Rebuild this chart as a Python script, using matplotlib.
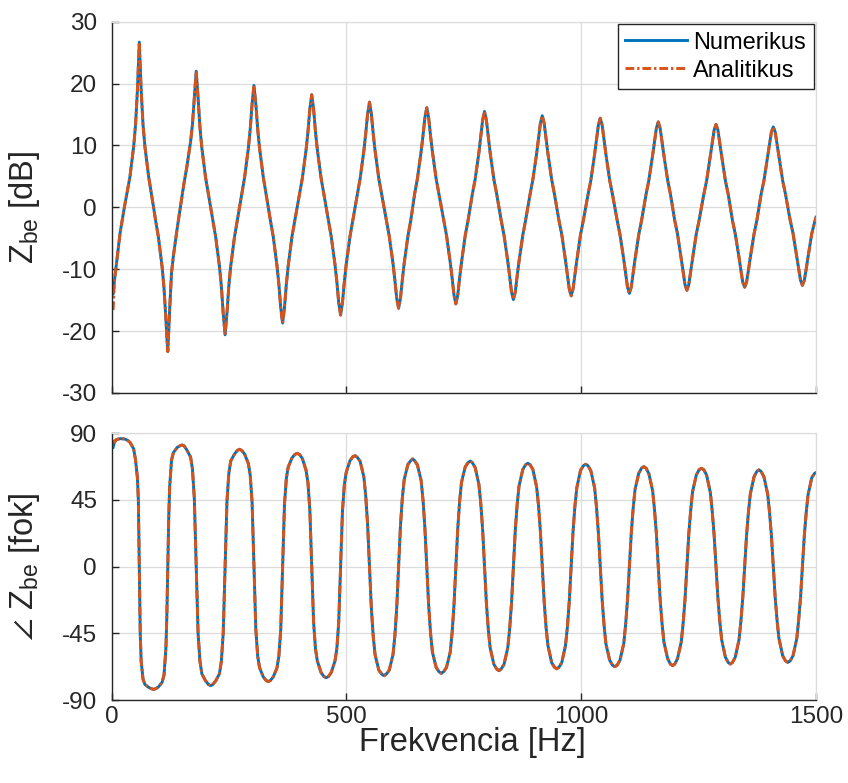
import matplotlib
matplotlib.use("Agg")
import matplotlib.pyplot as plt

plt.rcParams['font.family'] = ['Liberation Sans', 'DejaVu Sans']
plt.rcParams['mathtext.fontset'] = 'custom'
plt.rcParams['mathtext.rm'] = 'Liberation Sans'
plt.rcParams['mathtext.it'] = 'Liberation Sans:italic'
plt.rcParams['mathtext.fallback'] = 'stixsans'
plt.rcParams['axes.unicode_minus'] = False

# frekvencia [Hz] - one row per half period (peak -> trough -> peak)
freq = [3, 6, 10, 18, 27, 32.8, 38.8, 46.8, 50.8, 54.8, 56.8,
        58.8, 60.8, 62.8, 66.8, 70.8, 78.8, 84.8, 89.2, 93.5, 99.5, 107.5, 111.5, 115.5, 117.5,
        119.5, 121.5, 123.5, 127.5, 131.5, 139.5, 145.5, 149.8, 154, 160, 168, 172, 176,
        180, 184, 188, 192, 200, 206, 210.8, 215.5, 221.5, 229.5, 233.5, 237.5,
        241.5, 245.5, 249.5, 253.5, 261.5, 267.5, 272.3, 277, 283, 291, 295, 299,
        303, 307, 311, 315, 323, 329, 333.5, 338, 344, 352, 356, 360,
        364, 368, 372, 376, 384, 390, 395, 400, 406, 414, 418, 422,
        426, 430, 434, 438, 446, 452, 456.8, 461.5, 467.5, 475.5, 479.5, 483.5,
        487.5, 491.5, 495.5, 499.5, 507.5, 513.5, 518.3, 523, 529, 537, 541, 545,
        549, 553, 557, 561, 569, 575, 580, 585, 591, 599, 603, 607,
        611, 615, 619, 623, 631, 637, 641, 645, 651, 659, 663, 667,
        671, 675, 679, 683, 691, 697, 702, 707, 713, 721, 725, 729,
        733, 737, 741, 745, 753, 759, 763.5, 768, 774, 782, 786, 790,
        794, 798, 802, 806, 814, 820, 824.8, 829.5, 835.5, 843.5, 847.5, 851.5,
        855.5, 859.5, 863.5, 867.5, 875.5, 881.5, 886.3, 891, 897, 905, 909, 913,
        917, 921, 925, 929, 937, 943, 947.8, 952.5, 958.5, 966.5, 970.5, 974.5,
        978.5, 982.5, 986.5, 990.5, 998.5, 1004.5, 1009.5, 1014.5, 1020.5, 1028.5, 1032.5, 1036.5,
        1040.5, 1044.5, 1048.5, 1052.5, 1060.5, 1066.5, 1071.5, 1076.5, 1082.5, 1090.5, 1094.5, 1098.5,
        1102.5, 1106.5, 1110.5, 1114.5, 1122.5, 1128.5, 1133.3, 1138, 1144, 1152, 1156, 1160,
        1164, 1168, 1172, 1176, 1184, 1190, 1194.5, 1199, 1205, 1213, 1217, 1221,
        1225, 1229, 1233, 1237, 1245, 1251, 1256, 1261, 1267, 1275, 1279, 1283,
        1287, 1291, 1295, 1299, 1307, 1313, 1317.5, 1322, 1328, 1336, 1340, 1344,
        1348, 1352, 1356, 1360, 1368, 1374, 1378.5, 1383, 1389, 1397, 1401, 1405,
        1409, 1413, 1417, 1421, 1429, 1435, 1440, 1445, 1451, 1459, 1463, 1467,
        1471, 1475, 1479, 1483, 1491, 1497, 1500]

# |Z_be| [dB], numerikus
z_db = [-14.0, -11.8, -9.2, -4.1, 0, 2.4, 4.9, 9.8, 13.3, 18.9, 23.0,
        26.7, 23.0, 18.9, 13.3, 9.8, 4.9, 2.1, 0, -2.1, -4.8, -9.7, -13.1, -18.1, -21.0,
        -23.3, -20.0, -16.5, -10.5, -7.8, -3.4, -0.3, 1.8, 3.9, 6.5, 10.6, 13.4, 17.7,
        22.0, 17.7, 12.9, 9.6, 4.8, 2.1, 0, -2.1, -4.8, -9.5, -12.7, -17.1,
        -20.6, -17.1, -12.7, -9.5, -4.8, -2.1, 0, 2.1, 4.8, 9.5, 12.6, 16.7,
        19.7, 16.7, 12.6, 9.5, 4.8, 2.1, 0, -2.1, -4.7, -9.4, -12.4, -16.2,
        -18.7, -16.2, -12.4, -9.4, -4.7, -2.1, 0, 2.1, 4.7, 9.3, 12.2, 15.9,
        18.2, 15.9, 12.2, 9.3, 4.7, 2.1, 0, -2.1, -4.7, -9.2, -12.0, -15.4,
        -17.4, -15.4, -12.0, -9.2, -4.7, -2.1, 0, 2.1, 4.6, 9.1, 11.9, 15.1,
        17.0, 15.1, 11.9, 9.1, 4.6, 2.1, 0, -2.1, -4.6, -9.0, -11.7, -14.7,
        -16.3, -14.7, -11.7, -9.0, -4.6, -2.1, 0, 2.1, 4.6, 9.0, 11.6, 14.5,
        16.1, 14.5, 11.6, 9.0, 4.6, 2.1, 0, -2.1, -4.5, -8.9, -11.4, -14.2,
        -15.6, -14.2, -11.4, -8.9, -4.5, -2.1, 0, 2.1, 4.5, 8.8, 11.4, 14.1,
        15.5, 14.1, 11.4, 8.8, 4.5, 2.1, 0, -2.1, -4.5, -8.7, -11.1, -13.7,
        -14.9, -13.7, -11.1, -8.7, -4.5, -2.1, 0, 2.1, 4.5, 8.7, 11.1, 13.6,
        14.8, 13.6, 11.1, 8.7, 4.5, 2.1, 0, -2.1, -4.4, -8.6, -10.9, -13.2,
        -14.3, -13.2, -10.9, -8.6, -4.4, -2.1, 0, 2.1, 4.4, 8.6, 10.9, 13.3,
        14.4, 13.3, 10.9, 8.6, 4.4, 2.1, 0, -2.1, -4.4, -8.4, -10.7, -12.9,
        -13.9, -12.9, -10.7, -8.4, -4.4, -2.1, 0, 2.1, 4.4, 8.4, 10.6, 12.8,
        13.8, 12.8, 10.6, 8.4, 4.4, 2.1, 0, -2.1, -4.3, -8.3, -10.4, -12.5,
        -13.4, -12.5, -10.4, -8.3, -4.3, -2.1, 0, 2.1, 4.3, 8.3, 10.4, 12.5,
        13.4, 12.5, 10.4, 8.3, 4.3, 2.1, 0, -2.1, -4.3, -8.1, -10.2, -12.1,
        -12.9, -12.1, -10.2, -8.1, -4.3, -2.1, 0, 2.1, 4.3, 8.2, 10.2, 12.2,
        13.0, 12.2, 10.2, 8.2, 4.3, 2.1, 0, -2.1, -4.2, -8.0, -10.0, -11.8,
        -12.6, -11.8, -10.0, -8.0, -4.2, -2.4, -1.6]

# fazis [fok], numerikus
z_deg = [80.5, 84, 85.8, 86.4, 86.2, 85.5, 84, 79.5, 72, 60, 45,
         0, -45, -64, -76, -79.5, -81.5, -82.4, -82.8, -82.4, -81.2, -78, -73, -55, -33,
         0, 33, 54, 72, 77, 80.5, 81.6, 82.1, 81.6, 78.8, 74, 66, 46,
         0, -45, -64, -72.3, -77.1, -79.5, -80.3, -79.5, -77.1, -72.3, -64, -45,
         0, 44, 63, 71.3, 76, 78.4, 79.2, 78.4, 76, 69.7, 61.8, 43.6,
         0, -42.7, -60.5, -68.3, -74.5, -76.8, -77.6, -76.8, -74.5, -68.3, -60.5, -42.7,
         0, 42.1, 59.7, 67.3, 73.4, 75.7, 76.5, 75.7, 73.1, 65, 56.6, 38.3,
         0, -37.5, -55.4, -63.7, -71.5, -74.2, -74.9, -74.2, -71.5, -63.7, -55.4, -37.5,
         0, 37.5, 55.4, 63.7, 71.5, 74.2, 74.9, 73.8, 71.2, 60.7, 47.9, 28.5,
         0, -28, -47.1, -59.6, -69.9, -72.5, -73.6, -72.5, -69.9, -59.6, -47.1, -28,
         0, 27.6, 46.5, 58.9, 69.1, 71.6, 72.7, 71.6, 68.7, 58.2, 45.1, 26.2,
         0, -25.9, -44.6, -57.6, -68, -70.9, -72, -70.9, -68, -57.6, -44.6, -25.9,
         0, 25.7, 44.2, 57, 67.4, 70.2, 71.3, 70.2, 67, 55.6, 42.8, 25,
         0, -24.6, -42.1, -54.8, -66, -69.1, -70.2, -69.1, -66, -54.8, -42.1, -24.6,
         0, 24.4, 41.9, 54.4, 65.6, 68.8, 69.8, 68.8, 65.6, 53.7, 41.2, 23.7,
         0, -23.4, -40.7, -53.1, -64.8, -67.9, -68.9, -67.9, -64.8, -53.1, -40.7, -23.4,
         0, 23.5, 40.8, 53.2, 65, 68.1, 69.1, 68.1, 64.6, 53.2, 40.1, 22.8,
         0, -22.3, -39.2, -52, -63.1, -66.5, -67.5, -66.5, -63.1, -52, -39.2, -22.3,
         0, 22.3, 39.2, 52, 63.1, 66.5, 67.5, 66.5, 62.8, 51.3, 38.5, 22.3,
         0, -22, -38.1, -50.8, -62.1, -65.8, -66.8, -65.8, -62.1, -50.8, -38.1, -22,
         0, 21.9, 37.8, 50.5, 61.8, 65.4, 66.4, 65.4, 61.8, 49.8, 37.2, 21.2,
         0, -21, -36.8, -49.3, -61.1, -64.7, -65.7, -64.7, -61.1, -49.3, -36.8, -21,
         0, 20.9, 36.6, 49, 60.7, 64.3, 65.3, 64.3, 60.7, 49, 36.6, 20.9,
         0, -20.7, -36.2, -48.5, -60.1, -63.6, -64.6, -63.6, -60.1, -48.5, -36.2, -20.7,
         0, 20.7, 36.2, 48.5, 60.1, 63.0, 63.5]

# analitikus: same as numerikus except the first sample
z_db_ana = [-16.6] + z_db[1:]
z_deg_ana = [85.5] + z_deg[1:]

labels = ['Numerikus', 'Analitikus']
c_num = '#0072BD'
c_ana = '#D95319'
dashdot = (0, (3.0, 1.0, 0.8, 1.0))
txt = '#262626'

fig = plt.figure(figsize=(8.48, 7.83), dpi=100)
ax1 = fig.add_axes([0.1317, 0.4981, 0.8306, 0.4742])
ax2 = fig.add_axes([0.1317, 0.1060, 0.8306, 0.3406])

ax1.plot(freq, z_db, color=c_num, lw=2.1, label=labels[0])
ax1.plot(freq, z_db_ana, color=c_ana, lw=2.1, linestyle=dashdot, label=labels[1])
ax2.plot(freq, z_deg, color=c_num, lw=2.1)
ax2.plot(freq, z_deg_ana, color=c_ana, lw=2.1, linestyle=dashdot)

ax1.set_ylim(-30, 30)
ax1.set_yticks([-30, -20, -10, 0, 10, 20, 30])
ax2.set_ylim(-90, 90)
ax2.set_yticks([-90, -45, 0, 45, 90])

for ax in (ax1, ax2):
    ax.set_xlim(0, 1500)
    ax.set_xticks([0, 500, 1000, 1500])
    ax.grid(True, color='#dcdcdc', lw=0.9)
    ax.set_axisbelow(True)
    ax.tick_params(direction='in', length=5, width=1, colors=txt,
                   labelsize=17.5, labelcolor=txt, top=False, right=False)
    ax.tick_params(axis='y', pad=10.5)
    ax.tick_params(axis='x', pad=4)
    for s in ('left', 'bottom'):
        ax.spines[s].set_color(txt)
        ax.spines[s].set_linewidth(1.0)
    for s in ('top', 'right'):
        ax.spines[s].set_color('#dcdcdc')
        ax.spines[s].set_linewidth(0.9)

ax1.tick_params(labelbottom=False)

ax1.set_ylabel(r'Z$_{\mathrm{be}}$ [dB]', fontsize=23.5, color=txt)
ax2.set_ylabel(r'$\angle$ Z$_{\mathrm{be}}$ [fok]', fontsize=23.5, color=txt)
ax1.yaxis.set_label_coords(-0.099, 0.5)
ax2.yaxis.set_label_coords(-0.099, 0.5)
ax2.set_xlabel('Frekvencia [Hz]', fontsize=23.5, color=txt)
ax2.xaxis.set_label_coords(0.512, -0.1)

leg = ax1.legend(loc='upper right', bbox_to_anchor=(1.0, 1.0), borderaxespad=0.1,
                 fontsize=17, fancybox=False, framealpha=1, edgecolor=txt,
                 handlelength=2.6, handletextpad=0.28, labelspacing=0.25, borderpad=0.32)
leg.get_frame().set_linewidth(1.0)

fig.savefig('out.png', dpi=100)
